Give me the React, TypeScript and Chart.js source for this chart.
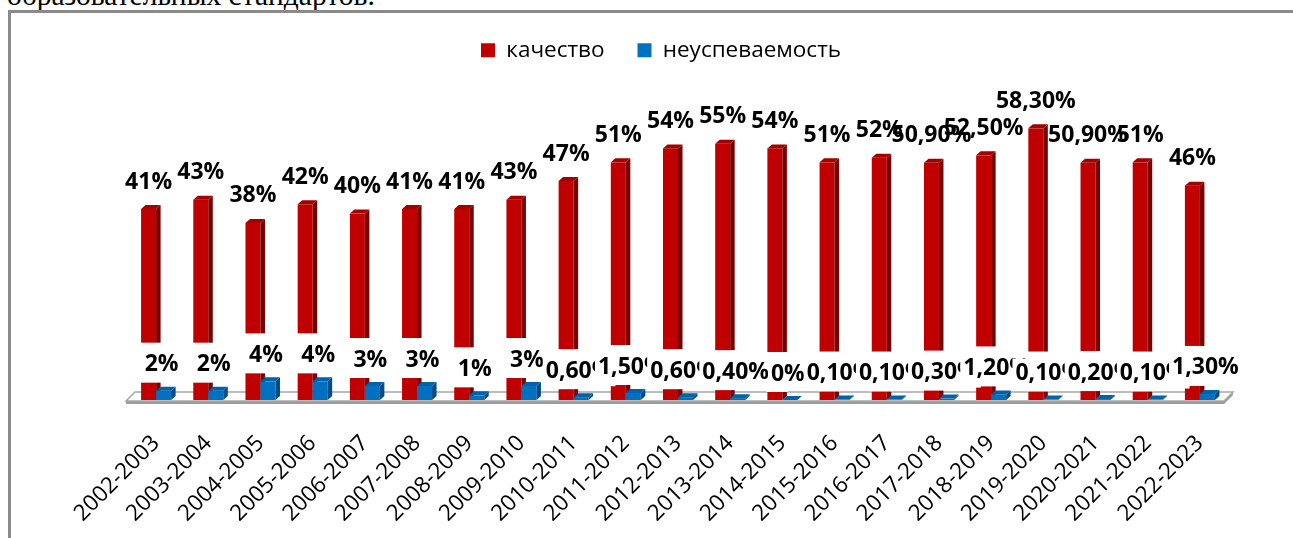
import React, { useEffect, useRef } from "react";
import { Chart, registerables } from "chart.js";

Chart.register(...registerables);

const headingTail = "образовательных стандартов.";
const seriesNames = ["качество", "неуспеваемость"];
const categories = [
  "2002-2003", "2003-2004", "2004-2005", "2005-2006", "2006-2007", "2007-2008",
  "2008-2009", "2009-2010", "2010-2011", "2011-2012", "2012-2013", "2013-2014",
  "2014-2015", "2015-2016", "2016-2017", "2017-2018", "2018-2019", "2019-2020",
  "2020-2021", "2021-2022", "2022-2023",
];
const quality = [41, 43, 38, 42, 40, 41, 41, 43, 47, 51, 54, 55, 54, 51, 52, 50.9, 52.5, 58.3, 50.9, 51, 46];
const failure = [2, 2, 4, 4, 3, 3, 1, 3, 0.6, 1.5, 0.6, 0.4, 0, 0.1, 0.1, 0.3, 1.2, 0.1, 0.2, 0.1, 1.3];

const RED = "#C00000";
const RED_SIDE = "#7A0000";
const RED_TOP = "#A30000";
const BLUE = "#0070C0";
const BLUE_SIDE = "#004C86";
const BLUE_TOP = "#0062AA";
const DX = 4.5;
const DY = -4;
const LABEL_FONT = "bold 23px 'Open Sans'";

const fmt = (v: number) =>
  Number.isInteger(v) ? `${v}%` : `${v.toFixed(2).replace(".", ",")}%`;

function props(el: any) {
  return el.getProps(["x", "y", "base", "width"], true);
}

function drawBar(ctx: CanvasRenderingContext2D, el: any, front: string, side: string, top: string) {
  const { x, y, base, width } = props(el);
  const L = x - width / 2;
  const R = x + width / 2;
  ctx.fillStyle = front;
  ctx.fillRect(L, y, width, base - y);
  ctx.fillStyle = side;
  ctx.beginPath();
  ctx.moveTo(R, y);
  ctx.lineTo(R + DX, y + DY);
  ctx.lineTo(R + DX, base + DY);
  ctx.lineTo(R, base);
  ctx.closePath();
  ctx.fill();
  ctx.fillStyle = top;
  ctx.beginPath();
  ctx.moveTo(L, y);
  ctx.lineTo(L + DX, y + DY);
  ctx.lineTo(R + DX, y + DY);
  ctx.lineTo(R, y);
  ctx.closePath();
  ctx.fill();
}

const bar3d = {
  id: "bar3d",
  beforeDatasetsDraw(chart: any) {
    const { ctx, chartArea } = chart;
    const { left, right, bottom } = chartArea;
    const fl = left - 4;
    const fr = right - 2;
    const fy = bottom + 1;
    const bx = 9;
    const by = -9;
    ctx.save();
    ctx.fillStyle = "#9C9C9C";
    ctx.beginPath();
    ctx.moveTo(fl, fy);
    ctx.lineTo(fr, fy);
    ctx.lineTo(fr + bx, fy + by);
    ctx.lineTo(fr + bx, fy + by + 3);
    ctx.lineTo(fr, fy + 3);
    ctx.lineTo(fl, fy + 3);
    ctx.closePath();
    ctx.fill();
    ctx.fillStyle = "#FFFFFF";
    ctx.strokeStyle = "#A6A6A6";
    ctx.lineWidth = 1.5;
    ctx.beginPath();
    ctx.moveTo(fl, fy);
    ctx.lineTo(fr, fy);
    ctx.lineTo(fr + bx, fy + by);
    ctx.lineTo(fl + bx, fy + by);
    ctx.closePath();
    ctx.fill();
    ctx.stroke();
    ctx.restore();
  },
  beforeDatasetDraw() {
    return false;
  },
  afterDatasetsDraw(chart: any) {
    const ctx = chart.ctx as CanvasRenderingContext2D;
    const redMeta = chart.getDatasetMeta(0);
    const blueMeta = chart.getDatasetMeta(1);
    ctx.save();
    redMeta.data.forEach((el: any) => drawBar(ctx, el, RED, RED_SIDE, RED_TOP));
    redMeta.data.forEach((el: any, i: number) => {
      const { x, width } = props(el);
      const bTop = props(blueMeta.data[i]).y;
      ctx.fillStyle = "#FFFFFF";
      ctx.fillRect(x - width / 2 - 1, bTop - 48, width + DX + 2, 40);
    });
    blueMeta.data.forEach((el: any) => drawBar(ctx, el, BLUE, BLUE_SIDE, BLUE_TOP));

    ctx.font = LABEL_FONT;
    ctx.textAlign = "center";
    ctx.textBaseline = "middle";
    blueMeta.data.forEach((el: any, i: number) => {
      const { x, y } = props(el);
      const t = fmt(failure[i]);
      const w = ctx.measureText(t).width;
      const cx = x - 2;
      const cy = y - 26;
      ctx.fillStyle = "#FFFFFF";
      ctx.fillRect(cx - w / 2 - 3, cy - 15, w + 6, 30);
      ctx.fillStyle = "#000000";
      ctx.fillText(t, cx, cy);
    });
    redMeta.data.forEach((el: any, i: number) => {
      const { x, y } = props(el);
      ctx.fillStyle = "#000000";
      ctx.fillText(fmt(quality[i]), x, y - 27);
    });
    ctx.restore();
  },
};

export default function App() {
  const ref = useRef<HTMLCanvasElement | null>(null);

  useEffect(() => {
    document.body.style.overflow = "hidden";
    const canvas = ref.current;
    if (!canvas) return;
    const chart = new Chart(canvas, {
      type: "bar",
      data: {
        labels: categories,
        datasets: [
          {
            label: seriesNames[0],
            data: quality,
            backgroundColor: RED,
            borderWidth: 0,
            barPercentage: 1,
            categoryPercentage: 0.575,
          },
          {
            label: seriesNames[1],
            data: failure,
            backgroundColor: BLUE,
            borderWidth: 0,
            barPercentage: 1,
            categoryPercentage: 0.575,
          },
        ],
      },
      options: {
        responsive: false,
        animation: false,
        devicePixelRatio: 1,
        layout: { padding: { top: 6, left: 96, right: 67, bottom: 0 } },
        plugins: {
          legend: {
            position: "top",
            labels: {
              boxWidth: 14,
              boxHeight: 14,
              padding: 33,
              color: "#000000",
              font: { family: "'Open Sans'", size: 22.5 },
            },
          },
          tooltip: { enabled: false },
        },
        scales: {
          x: {
            grid: { display: false, drawTicks: false },
            border: { display: false },
            ticks: {
              autoSkip: false,
              minRotation: 45,
              maxRotation: 45,
              padding: 30,
              color: "#000000",
              font: { family: "'Open Sans'", size: 22.5 },
            },
            afterFit: (s: any) => {
              s.height = 138;
            },
          },
          y: {
            min: 0,
            max: 70.5,
            grid: { display: false, drawTicks: false },
            border: { display: false },
            ticks: { display: false },
            afterFit: (s: any) => {
              s.width = 34;
            },
          },
        },
      },
      plugins: [bar3d],
    });
    return () => chart.destroy();
  }, []);

  return (
    <div style={{ position: "fixed", left: 0, top: 0, width: 1293, height: 538, overflow: "hidden", background: "#fff" }}>
      <div
        style={{
          position: "absolute",
          left: 7,
          top: -18.7,
          fontFamily: "'Liberation Serif', serif",
          fontSize: 29.5,
          lineHeight: "29.5px",
          whiteSpace: "nowrap",
          color: "#000",
        }}
      >
        {headingTail}
      </div>
      <div
        style={{
          position: "absolute",
          left: 8,
          top: 10,
          width: 1400,
          height: 600,
          borderLeft: "3px solid #8A8A8A",
          borderTop: "3px solid #8A8A8A",
        }}
      />
      <canvas ref={ref} width={1293} height={538} style={{ position: "absolute", left: 0, top: 0 }} />
    </div>
  );
}
